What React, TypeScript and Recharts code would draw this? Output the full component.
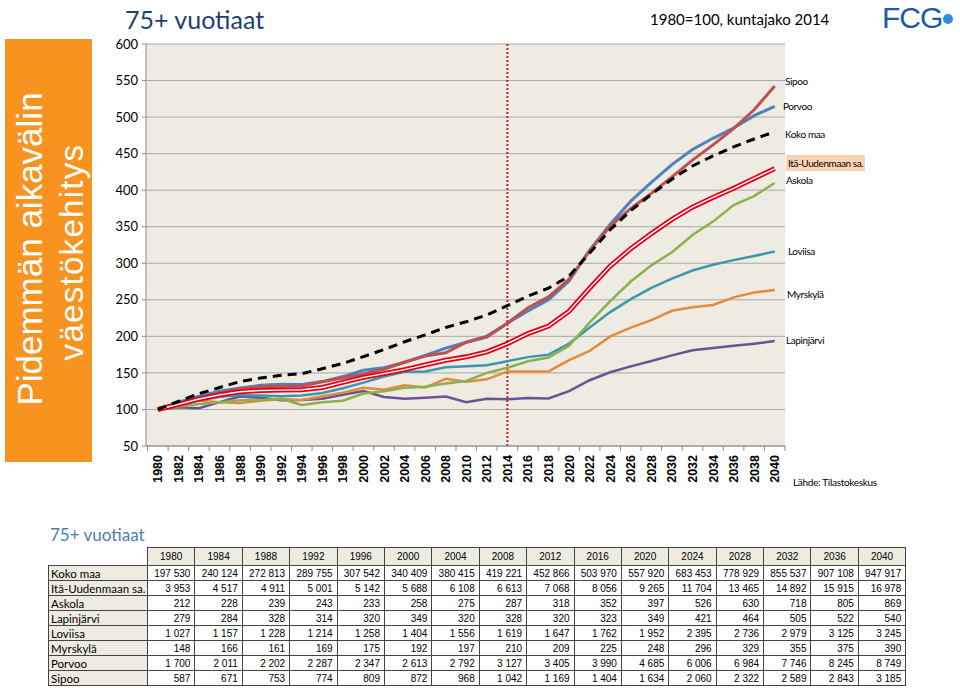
import React from "react";
import { CartesianGrid, Line, LineChart, ReferenceLine, XAxis, YAxis } from "recharts";

// indeksi 1980=100, luettu kuvasta 2 vuoden välein
const years = [
  1980, 1982, 1984, 1986, 1988, 1990, 1992, 1994, 1996, 1998, 2000, 2002, 2004, 2006, 2008, 2010,
  2012, 2014, 2016, 2018, 2020, 2022, 2024, 2026, 2028, 2030, 2032, 2034, 2036, 2038, 2040,
];
const kokoMaa = [100, 111, 121.6, 130, 138.1, 143, 146.7, 149, 155.7, 163, 172.3, 182, 192.6, 202, 212.2, 220, 229.3, 242, 255.1, 266, 282.4, 314, 346, 372, 394.3, 415, 433.1, 447, 459.2, 470, 479.9];
const itaUusimaa = [100, 107, 114.3, 120, 124.2, 126, 126.5, 127, 130.1, 137, 143.9, 149, 154.5, 161, 167.3, 172, 178.8, 190, 203.8, 214, 234.4, 266, 296.1, 320, 340.6, 360, 376.7, 390, 402.6, 416, 429.5];
const askola = [100, 104, 107.5, 110, 112.7, 113, 114.6, 106, 109.9, 112, 121.7, 125, 129.7, 131, 135.4, 139, 150, 157, 166, 171, 187.3, 219, 248.1, 275, 297.2, 315, 338.7, 357, 379.7, 392, 409.9];
const lapinjarvi = [100, 103, 101.8, 110, 117.6, 116, 112.5, 113, 114.7, 120, 125.1, 117, 114.7, 116, 117.6, 110, 114.7, 114, 115.8, 115, 125.1, 140, 150.9, 159, 166.3, 174, 181, 184, 187.1, 190, 193.5];
const loviisa = [100, 107, 112.7, 117, 119.6, 119, 118.2, 119, 122.5, 129, 136.7, 145, 151.5, 152, 157.6, 159, 160.4, 166, 171.6, 175, 190.1, 212, 233.2, 251, 266.4, 279, 290.1, 298, 304.3, 310, 316];
const myrskyla = [100, 106, 112.2, 110, 108.8, 112, 114.2, 113, 118.2, 123, 129.7, 127, 133.1, 130, 141.9, 138, 141.2, 152, 152, 152, 167.6, 180, 200, 212, 222.3, 235, 239.9, 243, 253.4, 260, 263.5];
const porvoo = [100, 110, 118.3, 125, 129.5, 133, 134.5, 134, 138.1, 145, 153.7, 157, 164.2, 174, 183.9, 192, 200.3, 218, 234.7, 250, 275.6, 318, 353.3, 385, 410.8, 435, 455.6, 471, 485, 502, 514.6];
const sipoo = [100, 107, 114.3, 122, 128.3, 131, 131.9, 132, 137.8, 143, 148.6, 155, 164.9, 173, 177.5, 192, 199.1, 218, 239.2, 254, 278.4, 317, 350.9, 375, 395.6, 418, 441.1, 462, 484.3, 510, 542.6];

const yTicks = [50, 100, 150, 200, 250, 300, 350, 400, 450, 500, 550, 600];
const xTicks = Array.from({ length: 63 }, (_, i) => 1979 + i);

// taulukko: henkilömäärät
const tableYears = [1980, 1984, 1988, 1992, 1996, 2000, 2004, 2008, 2012, 2016, 2020, 2024, 2028, 2032, 2036, 2040];
const kokoMaaN = [197530, 240124, 272813, 289755, 307542, 340409, 380415, 419221, 452866, 503970, 557920, 683453, 778929, 855537, 907108, 947917];
const itaN = [3953, 4517, 4911, 5001, 5142, 5688, 6108, 6613, 7068, 8056, 9265, 11704, 13465, 14892, 15915, 16978];
const askolaN = [212, 228, 239, 243, 233, 258, 275, 287, 318, 352, 397, 526, 630, 718, 805, 869];
const lapinN = [279, 284, 328, 314, 320, 349, 320, 328, 320, 323, 349, 421, 464, 505, 522, 540];
const loviisaN = [1027, 1157, 1228, 1214, 1258, 1404, 1556, 1619, 1647, 1762, 1952, 2395, 2736, 2979, 3125, 3245];
const myrN = [148, 166, 161, 169, 175, 192, 197, 210, 209, 225, 248, 296, 329, 355, 375, 390];
const porvooN = [1700, 2011, 2202, 2287, 2347, 2613, 2792, 3127, 3405, 3990, 4685, 6006, 6984, 7746, 8245, 8749];
const sipooN = [587, 671, 753, 774, 809, 872, 968, 1042, 1169, 1404, 1634, 2060, 2322, 2589, 2843, 3185];

const tableRows: [string, number[]][] = [
  ["Koko maa", kokoMaaN],
  ["Itä-Uudenmaan sa.", itaN],
  ["Askola", askolaN],
  ["Lapinjärvi", lapinN],
  ["Loviisa", loviisaN],
  ["Myrskylä", myrN],
  ["Porvoo", porvooN],
  ["Sipoo", sipooN],
];

const data = years.map((year, i) => ({
  year,
  kokoMaa: kokoMaa[i],
  ita: itaUusimaa[i],
  askola: askola[i],
  lapinjarvi: lapinjarvi[i],
  loviisa: loviisa[i],
  myrskyla: myrskyla[i],
  porvoo: porvoo[i],
  sipoo: sipoo[i],
}));

const fmt = (n: number) => n.toString().replace(/\B(?=(\d{3})+(?!\d))/g, " ");

const calibri = "Lato, 'Open Sans', sans-serif";
const arial = "'Liberation Sans', Arial, sans-serif";

function YearTick(props: any) {
  const { x, y, payload } = props;
  const v = payload.value;
  if (v % 2 !== 0) {
    return <line x1={x} x2={x} y1={y} y2={y + 5} stroke="#8c8c8c" />;
  }
  return (
    <text
      x={x + 4.5}
      y={y + 9}
      transform={`rotate(-90, ${x + 4.5}, ${y + 9})`}
      textAnchor="end"
      fontSize={12.5}
      fontWeight="bold"
      fontFamily={arial}
      fill="#000"
    >
      {v}
    </text>
  );
}

const labels: { text: string; x: number; y: number; bg?: string }[] = [
  { text: "Sipoo", x: 785, y: 81 },
  { text: "Porvoo", x: 783, y: 106 },
  { text: "Koko maa", x: 785, y: 134 },
  { text: "Itä-Uudenmaan sa.", x: 786, y: 163, bg: "#F9D3B4" },
  { text: "Askola", x: 786, y: 180 },
  { text: "Loviisa", x: 788, y: 251 },
  { text: "Myrskylä", x: 787, y: 294 },
  { text: "Lapinjärvi", x: 786, y: 340 },
];

export default function App() {
  return (
    <div style={{ position: "absolute", left: 0, top: 0, width: 960, height: 688, background: "#fff", overflow: "hidden" }}>
      {/* oranssi sivupalkki */}
      <div style={{ position: "absolute", left: 5, top: 39, width: 87, height: 423, background: "#F7931E" }}>
        <svg width={87} height={423}>
          <text x={37} y={210} transform="rotate(-90, 37, 210)" textAnchor="middle" fill="#fff" fontSize={35} fontFamily={arial}>
            Pidemmän aikavälin
          </text>
          <text x={78} y={213} transform="rotate(-90, 78, 213)" textAnchor="middle" fill="#fff" fontSize={33} letterSpacing={1.3} fontFamily={arial}>
            väestökehitys
          </text>
        </svg>
      </div>

      <div style={{ position: "absolute", left: 125, top: 4, fontSize: 25, color: "#1F3F73", fontFamily: calibri }}>75+ vuotiaat</div>
      <div style={{ position: "absolute", left: 650, top: 10, fontSize: 15, color: "#000", fontFamily: calibri }}>1980=100, kuntajako 2014</div>
      <div style={{ position: "absolute", left: 882, top: 3, fontSize: 30, lineHeight: "30px", color: "#1D5AA6", fontFamily: arial, letterSpacing: -1 }}>FCG</div>
      <div style={{ position: "absolute", left: 943, top: 14, width: 10, height: 10, borderRadius: 5, background: "#2F8FD8" }} />

      <div style={{ position: "absolute", left: 0, top: 0 }}>
        <LineChart width={960} height={500} data={data} margin={{ top: 44, right: 175, bottom: 10, left: 96 }}>
          <CartesianGrid vertical={false} stroke="#A8A8A8" fill="#EEEBE2" />
          <XAxis
            dataKey="year"
            type="number"
            domain={[1978.85, 2041]}
            ticks={xTicks}
            interval={0}
            height={44}
            tickSize={0}
            tickMargin={0}
            tickLine={false}
            tick={<YearTick />}
            stroke="#8c8c8c"
            allowDataOverflow
          />
          <YAxis
            domain={[50, 600]}
            ticks={yTicks}
            width={50}
            tickSize={4}
            tickMargin={4}
            stroke="#8c8c8c"
            tick={{ fill: "#000", fontSize: 13, fontFamily: calibri }}
            allowDataOverflow
          />
          <ReferenceLine x={2014} stroke="#C8201E" strokeWidth={2} strokeDasharray="2 2" />
          <Line dataKey="lapinjarvi" stroke="#6A5294" strokeWidth={2.5} dot={false} isAnimationActive={false} />
          <Line dataKey="myrskyla" stroke="#E48A3C" strokeWidth={2.5} dot={false} isAnimationActive={false} />
          <Line dataKey="loviisa" stroke="#3B97AF" strokeWidth={2.5} dot={false} isAnimationActive={false} />
          <Line dataKey="askola" stroke="#8DB04E" strokeWidth={2.5} dot={false} isAnimationActive={false} />
          <Line dataKey="porvoo" stroke="#4F81BD" strokeWidth={3} dot={false} isAnimationActive={false} />
          <Line dataKey="sipoo" stroke="#C0504D" strokeWidth={3} dot={false} isAnimationActive={false} />
          <Line dataKey="ita" stroke="#E2001A" strokeWidth={5} dot={false} isAnimationActive={false} />
          <Line dataKey="ita" stroke="#FFFFFF" strokeWidth={1.4} dot={false} isAnimationActive={false} />
          <Line dataKey="kokoMaa" stroke="#000" strokeWidth={3} strokeDasharray="9 6" dot={false} isAnimationActive={false} />
        </LineChart>
      </div>

      {labels.map((l) => (
        <div
          key={l.text}
          style={{
            position: "absolute",
            left: l.x,
            top: l.y - 8,
            height: 16,
            lineHeight: "16px",
            fontSize: 10,
            letterSpacing: -0.4,
            fontFamily: calibri,
            color: "#000",
            background: l.bg,
            padding: l.bg ? "0 2px" : 0,
          }}
        >
          {l.text}
        </div>
      ))}

      <div style={{ position: "absolute", left: 793, top: 476, fontSize: 10, letterSpacing: -0.3, fontFamily: calibri, color: "#000" }}>Lähde: Tilastokeskus</div>

      <div style={{ position: "absolute", left: 50, top: 524, fontSize: 17, color: "#4F7BB8", fontFamily: calibri }}>75+ vuotiaat</div>

      <table
        style={{
          position: "absolute",
          left: 48,
          top: 547,
          width: 858,
          borderCollapse: "collapse",
          tableLayout: "fixed",
          fontFamily: arial,
          fontSize: 10,
        }}
      >
        <colgroup>
          <col style={{ width: 99 }} />
          {tableYears.map((y) => (
            <col key={y} style={{ width: 47.4 }} />
          ))}
        </colgroup>
        <tbody>
          <tr style={{ height: 18 }}>
            <td style={{ border: "none", background: "#fff" }} />
            {tableYears.map((y) => (
              <td key={y} style={{ border: "1px solid #444", background: "#EEECE1", textAlign: "center", padding: 0 }}>
                {y}
              </td>
            ))}
          </tr>
          {tableRows.map(([name, vals]) => (
            <tr key={name} style={{ height: 15 }}>
              <td
                style={{
                  border: "1px solid #444",
                  background: "#EEECE1",
                  fontFamily: calibri,
                  fontSize: 11.5,
                  padding: "0 2px",
                  whiteSpace: "nowrap",
                  lineHeight: "13px",
                }}
              >
                {name}
              </td>
              {vals.map((v, i) => (
                <td key={i} style={{ border: "1px solid #444", textAlign: "right", padding: "0 4px", lineHeight: "13px" }}>
                  {fmt(v)}
                </td>
              ))}
            </tr>
          ))}
        </tbody>
      </table>
    </div>
  );
}
